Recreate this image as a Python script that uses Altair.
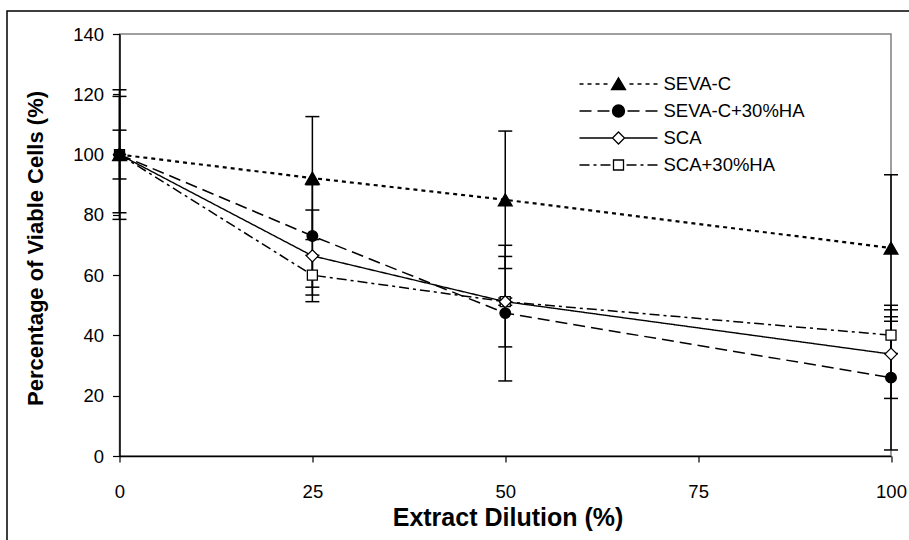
import altair as alt
import pandas as pd

# ---------------- data ----------------
x_vals = [0, 25, 50, 100]
series_names = ["SEVA-C", "SEVA-C+30%HA", "SCA", "SCA+30%HA"]

seva_c = [100, 92.2, 85.0, 69.0]
seva_c_err = [8.1, 20.4, 22.8, 24.3]
seva_c_ha = [100, 73.0, 47.4, 26.0]
seva_c_ha_err = [21.5, 17.0, 22.5, 24.0]
sca = [100, 66.4, 51.2, 33.8]
sca_err = [19.3, 15.2, 15.0, 14.7]
sca_ha = [100, 60.0, 51.2, 40.1]
sca_ha_err = [0.0, 6.6, 1.2, 6.1]

x_ticks = [0, 25, 50, 75, 100]
y_ticks = [0, 20, 40, 60, 80, 100, 120, 140]

x_title = "Extract Dilution (%)"
y_title = "Percentage of Viable Cells (%)"

# ---------------- table ----------------
rows = []
for name, vals, errs in zip(series_names,
                            [seva_c, seva_c_ha, sca, sca_ha],
                            [seva_c_err, seva_c_ha_err, sca_err, sca_ha_err]):
    for xv, v, e in zip(x_vals, vals, errs):
        rows.append({"series": name, "x": xv, "y": v, "err": e,
                     "lo": v - e, "hi": v + e})
df = pd.DataFrame(rows)

FONT = "Liberation Sans"

# ---------------- styles ----------------
dash_patterns = [[4, 4], [12, 6], [1, 0], [10, 4, 3, 4]]
line_widths = [2.2, 1.5, 1.4, 1.5]

# legend symbol paths (unit = 10 px at symbolSize 400)
U = 10.0
HALF = 3.9


def segs(pattern, start, stop):
    out = []
    direction = 1 if stop > start else -1
    pos = start
    i = 0
    while (pos - stop) * direction < 0:
        length = pattern[i % len(pattern)]
        end = pos + direction * length
        if (end - stop) * direction > 0:
            end = stop
        if i % 2 == 0:
            out.append((pos, end))
        pos = end
        i += 1
    return out


def line_path(pattern, m):
    if pattern == [1, 0]:
        parts = [(-HALF * U, -m * U), (m * U, HALF * U)]
    else:
        parts = segs(pattern, -HALF * U, -m * U) + segs(pattern, HALF * U, m * U)
    return " ".join(f"M{a / U:.3f},0L{b / U:.3f},0" for a, b in parts)


marker_paths = [
    "M0,-0.62L0.7,0.55L-0.7,0.55Z",
    "M0.6,0A0.6,0.6,0,1,1,-0.6,0A0.6,0.6,0,1,1,0.6,0Z",
    "M0,-0.6L0.6,0L0,0.6L-0.6,0Z",
    "M-0.5,-0.5L0.5,-0.5L0.5,0.5L-0.5,0.5Z",
]
marker_half = [0.7, 0.6, 0.6, 0.5]
legend_paths = [line_path(p, h) + mp
                for p, h, mp in zip(dash_patterns, marker_half, marker_paths)]
legend_fills = ["black", "black", "white", "white"]
legend_strokes = ["black", "black", "black", "black"]

xs = alt.Scale(domain=[0, 100], nice=False, zero=False)
ys = alt.Scale(domain=[0, 140], nice=False)

x_axis = alt.Axis(
    values=x_ticks, title=x_title, grid=False, tickSize=6, labelFlush=False,
    labelBaseline="alphabetic", labelPadding=35, labelFontSize=18.5,
    titleFontSize=25, titleBaseline="alphabetic", titleY=69, titleX=388,
    titleAnchor="middle")
y_axis = alt.Axis(
    values=y_ticks, title=y_title, grid=False, tickSize=7, labelPadding=9,
    labelFontSize=18.5, titleFontSize=22, titleBaseline="middle",
    titleX=-84, titleY=214)


def X(field="x"):
    return alt.X(f"{field}:Q", scale=xs, axis=x_axis)


def Y(field="y"):
    return alt.Y(f"{field}:Q", scale=ys, axis=y_axis)


base = alt.Chart(df)

frame = alt.Chart(alt.Data(values=[{"a": 1}])).mark_rect(
    fill="white", fillOpacity=0, stroke="black", strokeWidth=1.5
).encode(x=alt.value(-112.5), x2=alt.value(820),
         y=alt.value(-23), y2=alt.value(560))

line_layers = []
for name, dash, w in zip(series_names, dash_patterns, line_widths):
    line_layers.append(
        base.transform_filter(alt.datum.series == name).mark_line(
            color="black", strokeDash=dash, strokeWidth=w
        ).encode(x=X(), y=Y())
    )

errs = base.transform_filter("datum.err > 0").mark_rule(
    color="black", strokeWidth=1.5).encode(
    x=X(), y=Y("lo"), y2="hi:Q")

caps = base.transform_filter("datum.err > 0").transform_fold(
    ["lo", "hi"], as_=["k", "v"]).mark_tick(
    orient="horizontal", size=14, thickness=1.5, color="black", opacity=1
).encode(x=X(), y=Y("v"))

marker_specs = {
    "SCA+30%HA": dict(shape="square", size=100, fill="white"),
    "SCA": dict(shape="diamond", size=144, fill="white"),
    "SEVA-C+30%HA": dict(shape="circle", size=113, fill="black"),
    "SEVA-C": dict(shape="triangle-up", size=190, fill="black"),
}
marker_layers = []
for name in ["SCA+30%HA", "SCA", "SEVA-C+30%HA", "SEVA-C"]:
    s = marker_specs[name]
    marker_layers.append(
        base.transform_filter(alt.datum.series == name).mark_point(
            shape=s["shape"], size=s["size"], fill=s["fill"], filled=True,
            stroke="black", strokeWidth=1.3, opacity=1
        ).encode(x=X(), y=Y())
    )

legend_def = alt.Legend(
    title=None, orient="none", legendX=488, legendY=39,
    symbolSize=400, symbolStrokeWidth=1.3, symbolStrokeColor="black",
    labelFont=FONT, labelFontSize=18.5, labelColor="black",
    labelOffset=34, padding=0, rowPadding=6, labelLimit=300)

# legend-only layer: points pushed far outside the clipped plot area
legend_layer = base.transform_calculate(y="-1000").mark_point(
    size=400, strokeWidth=1.3, opacity=1, filled=True, clip=True
).encode(
    x=X(), y=Y(),
    shape=alt.Shape("series:N", scale=alt.Scale(domain=series_names, range=legend_paths),
                    legend=legend_def),
    fill=alt.Fill("series:N", scale=alt.Scale(domain=series_names, range=legend_fills),
                  legend=legend_def),
    stroke=alt.Stroke("series:N", scale=alt.Scale(domain=series_names, range=legend_strokes),
                      legend=legend_def),
)

chart = alt.layer(frame, *line_layers, errs, caps, *marker_layers, legend_layer).properties(
    width=771.5, height=422,
    padding={"left": 119.5, "top": 34, "right": 18, "bottom": 84},
    autosize=alt.AutoSizeParams(type="none"),
    background="white",
).configure_view(
    stroke="#808080", strokeWidth=1.5
).configure_axis(
    grid=False, domainColor="black", domainWidth=1.5, tickColor="black",
    tickWidth=1.2, labelFont=FONT, labelColor="black", titleFont=FONT,
    titleColor="black", titleFontWeight="bold"
)

chart.save("out.html", embed_options={"renderer": "svg", "actions": False})
